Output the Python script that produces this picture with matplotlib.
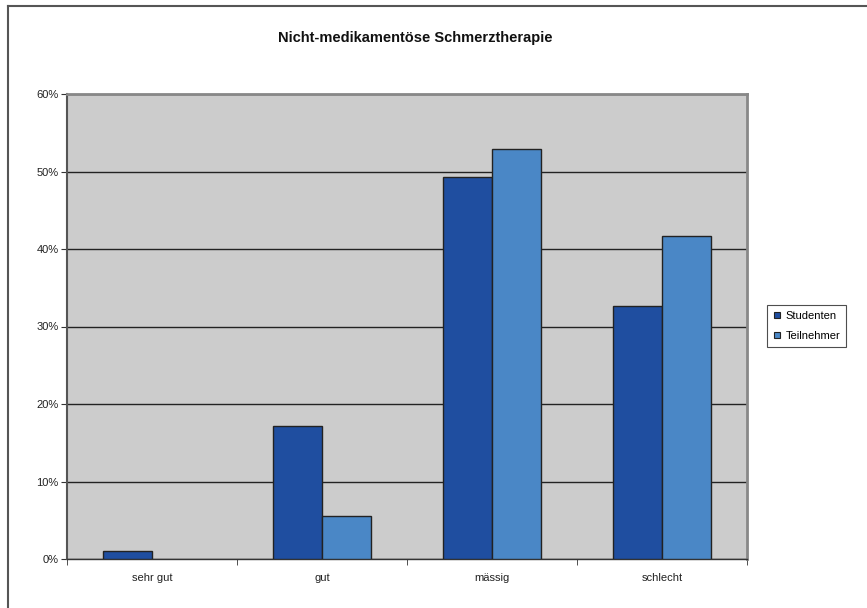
import numpy as np
import matplotlib.pyplot as plt
from matplotlib.lines import Line2D

plt.rcParams['font.family'] = ['Liberation Sans', 'DejaVu Sans']

categories = ['sehr gut', 'gut', 'mässig', 'schlecht']
studenten = [1.0, 17.2, 49.3, 32.6]
teilnehmer = [0.0, 5.5, 52.9, 41.7]
series_names = ['Studenten', 'Teilnehmer']
yticks = [0, 10, 20, 30, 40, 50, 60]

col_stud = '#1f4ea0'
col_teil = '#4a87c6'

fig = plt.figure(figsize=(8.67, 6.08), dpi=100)
ax = fig.add_axes([67/867, 49/608, 680/867, 465/608])
ax.set_facecolor('#cccccc')

x = np.arange(len(categories))
w = 0.29
for vals, off, col in ((studenten, -w/2, col_stud), (teilnehmer, w/2, col_teil)):
    bars = ax.bar(x + off, vals, w, color=col, edgecolor='#222222', linewidth=1, zorder=3)
    # Excel draws nothing for a zero value
    for b, v in zip(bars, vals):
        if v == 0:
            b.set_visible(False)

ax.set_xlim(-0.5, len(categories) - 0.5)
ax.set_ylim(0, 60)
ax.set_yticks(yticks)
ax.set_yticklabels([f'{t}%' for t in yticks], fontsize=8, color='#222222')
ax.yaxis.grid(True, color='#222222', linewidth=1, zorder=1)
ax.set_axisbelow(True)

ax.set_xticks(x)
ax.set_xticklabels(categories, fontsize=8, color='#222222')
ax.tick_params(axis='x', length=0, pad=10)
ax.set_xticks(np.arange(-0.5, len(categories)), minor=True)
ax.tick_params(axis='x', which='minor', length=4, direction='out', color='#333333')
ax.tick_params(axis='y', length=4, direction='out', color='#333333', pad=2)

for s in ['top', 'right']:
    ax.spines[s].set_color('#888888')
    ax.spines[s].set_linewidth(2)
ax.spines['left'].set_color('#555555')
ax.spines['left'].set_linewidth(1.5)
ax.spines['bottom'].set_color('#333333')
ax.spines['bottom'].set_linewidth(1)

fig.text(415/867, 1 - 38/608, 'Nicht-medikamentöse Schmerztherapie',
         ha='center', va='center', fontsize=10.5, fontweight='bold', color='#111111')

handles = [Line2D([], [], marker='s', linestyle='none', markersize=5,
                  markerfacecolor=c, markeredgecolor='#222222', markeredgewidth=0.8)
           for c in (col_stud, col_teil)]
leg = fig.legend(handles, series_names, loc='center left',
                 bbox_to_anchor=(767/867, 1 - 326/608), fontsize=8,
                 frameon=True, fancybox=False, edgecolor='#222222',
                 handlelength=0.8, handletextpad=0.4, borderpad=0.5,
                 labelspacing=0.9, borderaxespad=0)
leg.get_frame().set_linewidth(0.8)

# outer chart border (top and left visible)
fig.add_artist(Line2D([8/867, 8/867], [0, 1 - 6/608], transform=fig.transFigure,
                      color='#555555', linewidth=1.5))
fig.add_artist(Line2D([8/867, 1], [1 - 6/608, 1 - 6/608], transform=fig.transFigure,
                      color='#555555', linewidth=1.5))

fig.savefig('out.png', dpi=100)
